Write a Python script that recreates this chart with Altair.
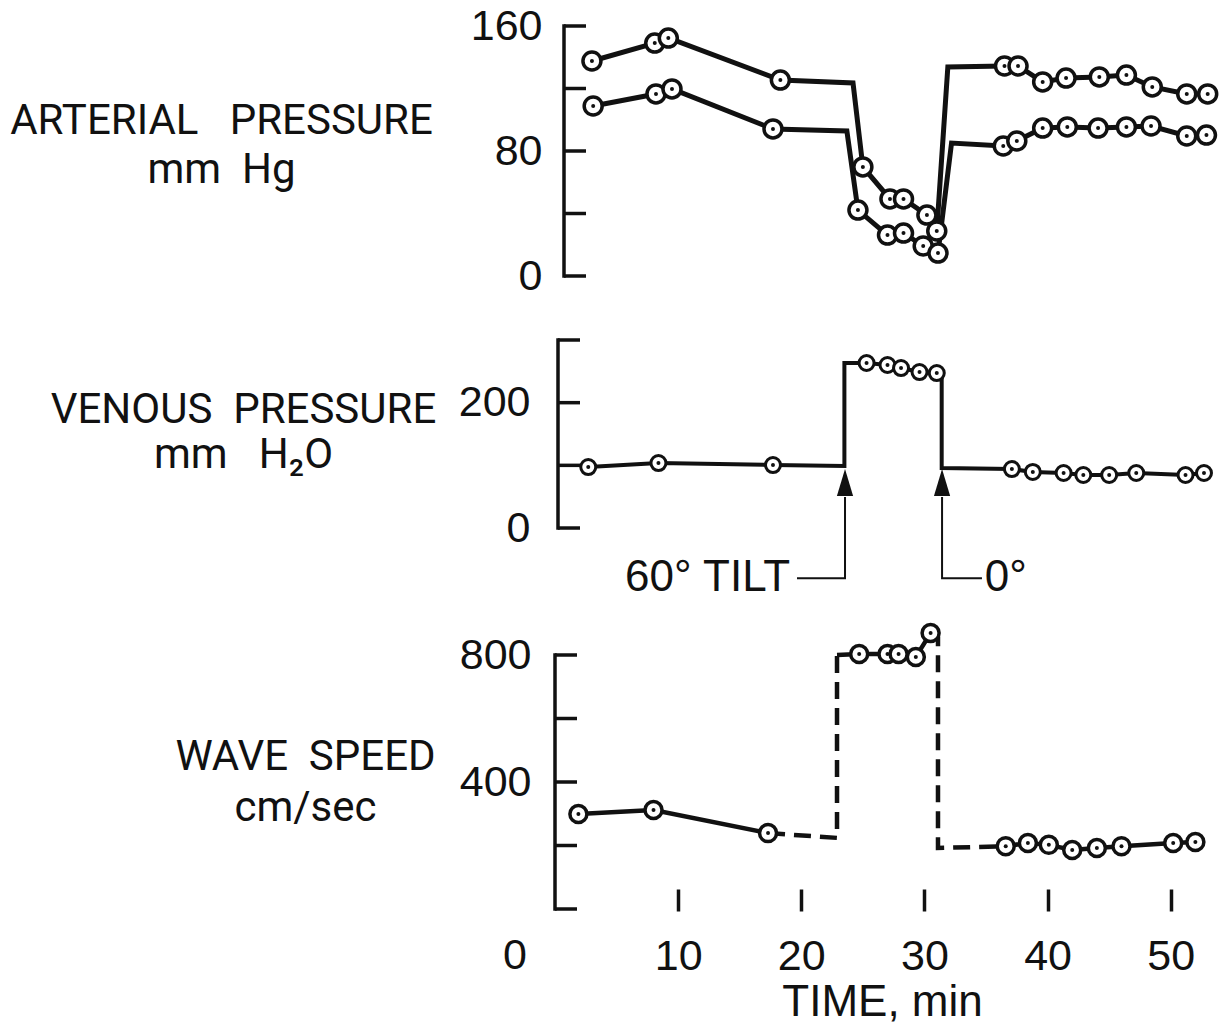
import altair as alt
import pandas as pd

INK = "#111111"
FONT = "Liberation Sans"
TITLE_FONT = "Roboto"

# ---------------- arterial pressure, mm Hg ----------------
# mark = 1 for a reading (ringed dot), 0 for a bend in the trace
sys_t = [3.0, 8.1, 9.2, 18.3, 24.2, 25.0, 27.2, 28.3, 30.2, 31.0, 31.9,
         36.5, 37.6, 39.6, 41.5, 44.2, 46.4, 48.5, 51.3, 53.0]
sys_v = [137.6, 149.1, 152.3, 125.4, 123.5, 69.8, 49.3, 49.3, 39.0, 28.8, 133.8,
         134.4, 134.4, 124.2, 126.7, 127.4, 128.6, 121.0, 116.5, 116.5]
sys_m = [1, 1, 1, 1, 0, 1, 1, 1, 1, 1, 0, 1, 1, 1, 1, 1, 1, 1, 1, 1]

dia_t = [3.1, 8.2, 9.5, 17.7, 23.7, 24.6, 27.0, 28.3, 29.9, 31.1, 32.2,
         36.4, 37.5, 39.6, 41.6, 44.1, 46.4, 48.4, 51.3, 52.9]
dia_v = [108.8, 116.5, 119.7, 94.1, 92.8, 42.2, 26.2, 27.5, 19.2, 14.7, 85.1,
         83.2, 86.4, 94.7, 95.4, 94.7, 95.4, 96.0, 89.6, 90.2]
dia_m = [1, 1, 1, 1, 0, 1, 1, 1, 1, 1, 0, 1, 1, 1, 1, 1, 1, 1, 1, 1]

ap_ticks = [0, 40, 80, 120, 160]
ap_labels = [0, 80, 160]

# ---------------- venous pressure, mm H2O ----------------
ven_t = [2.7, 8.4, 17.7, 23.5, 23.5, 25.3, 27.0, 28.1, 29.6, 31.0, 31.4, 31.4,
         37.1, 38.8, 41.3, 42.9, 45.0, 47.2, 51.2, 52.7]
ven_v = [97.3, 103.7, 100.5, 98.9, 263.3, 263.3, 260.1, 255.3, 248.9, 247.3, 247.3, 95.7,
         94.1, 89.4, 87.8, 84.6, 84.6, 87.8, 84.6, 87.8]
ven_m = [1, 1, 1, 0, 0, 1, 1, 1, 1, 1, 0, 0, 1, 1, 1, 1, 1, 1, 1, 1]

vp_ticks = [0, 100, 200, 300]
vp_labels = [0, 200]

# posture changes marked with arrows
event_t = [23.55, 31.43]
event_label = ["60\u00b0 TILT", "0\u00b0"]
event_leg_end = [19.65, 34.67]     # end of the horizontal leader
event_text_t = [19.1, 34.9]
arrow_tip = 94
arrow_base = 49.5
leader_level = -80

# ---------------- pulse wave speed, cm/sec ----------------
ws_t = [1.9, 8.0, 17.3,
        22.9, 24.7, 27.0, 27.9, 29.3, 30.5,
        36.6, 38.4, 40.1, 42.0, 44.0, 46.0, 50.2, 52.0]
ws_v = [299, 312, 239,
        800, 803, 803, 803, 794, 869,
        198, 208, 202, 186, 192, 198, 208, 211]
ws_m = [1, 1, 1, 0, 1, 1, 1, 1, 1, 1, 1, 1, 1, 1, 1, 1, 1]
ws_seg = [0, 0, 0, 1, 1, 1, 1, 1, 1, 2, 2, 2, 2, 2, 2, 2, 2]

# unmeasured transitions, drawn dashed
ws_dash_t = [17.3, 22.9, 22.9, 30.5, 31.1, 31.1, 36.6]
ws_dash_v = [239, 224, 800, 869, 853, 192, 198]
ws_dash_seg = [0, 0, 0, 1, 1, 1, 1]

ws_ticks = [0, 200, 400, 600, 800]
ws_labels = [400, 800]

time_ticks = [10, 20, 30, 40, 50]

# ---------------- tables ----------------
ap_df = pd.DataFrame({
    "t": sys_t + dia_t,
    "v": sys_v + dia_v,
    "mark": sys_m + dia_m,
    "series": ["systolic"] * len(sys_t) + ["diastolic"] * len(dia_t),
    "ord": list(range(len(sys_t))) + list(range(len(dia_t))),
})
ven_df = pd.DataFrame({"t": ven_t, "v": ven_v, "mark": ven_m, "ord": range(len(ven_t))})
ws_df = pd.DataFrame({"t": ws_t, "v": ws_v, "mark": ws_m, "seg": ws_seg, "ord": range(len(ws_t))})
ws_dash_df = pd.DataFrame({"t": ws_dash_t, "v": ws_dash_v, "seg": ws_dash_seg,
                           "ord": range(len(ws_dash_t))})

leader_rows = []
for i, (t0, t1) in enumerate(zip(event_t, event_leg_end)):
    leader_rows += [
        {"ev": i, "ord": 0, "t": t1, "v": leader_level},
        {"ev": i, "ord": 1, "t": t0, "v": leader_level},
        {"ev": i, "ord": 2, "t": t0, "v": arrow_base},
    ]
leader_df = pd.DataFrame(leader_rows)
arrow_df = pd.DataFrame({"t": event_t, "v": [arrow_tip] * len(event_t)})
event_text_df = pd.DataFrame({"t": event_text_t, "v": [leader_level] * len(event_t),
                              "label": event_label, "side": ["right", "left"]})

# ---------------- shared pieces ----------------
W = 665
x_scale = alt.Scale(domain=[0, 54], nice=False, zero=False)

time_axis = alt.Axis(
    values=time_ticks, domain=False, ticks=True, tickSize=22, tickWidth=3.5, tickColor=INK,
    offset=-20, labelPadding=24, labelFont=FONT, labelFontSize=43, labelColor=INK,
    labelFlush=False, labelOverlap=False, grid=False, format="d",
    title="TIME, min", titleX=327, titleY=126, titleAlign="center", titleBaseline="alphabetic",
    titleFont=FONT, titleFontSize=44, titleFontWeight="normal", titleColor=INK,
)


def y_axis(values, pad, title, tx, ty, line_h):
    return alt.Axis(
        values=values, domain=False, ticks=False, tickSize=0, grid=False,
        labelPadding=pad, labelFont=FONT, labelFontSize=43, labelColor=INK,
        labelOverlap=False, labelFlush=False,
        title=title, titleX=tx, titleY=ty, titleAngle=0, titleAlign="center",
        titleBaseline="alphabetic", titleLineHeight=line_h, titleFont=TITLE_FONT,
        titleFontSize=42, titleFontWeight="normal", titleColor=INK,
    )


def frame(lo, hi, ticks, y_scale, axis_x, tick_len=22, width=3.5):
    """Axis spine and inward tick marks of one panel."""
    spine = alt.Chart(pd.DataFrame({"v": [lo], "v2": [hi]})).mark_rule(
        color=INK, strokeWidth=width, strokeCap="square"
    ).encode(y=alt.Y("v:Q", scale=y_scale), y2="v2:Q", x=alt.value(axis_x))
    tks = alt.Chart(pd.DataFrame({"v": ticks})).mark_rule(
        color=INK, strokeWidth=width
    ).encode(y=alt.Y("v:Q", scale=y_scale), x=alt.value(axis_x), x2=alt.value(axis_x + tick_len))
    return [spine, tks]


def readings(df, xa, y_scale, ring_d, ring_w):
    pts = alt.Chart(df).transform_filter("datum.mark == 1").encode(
        x=alt.X("t:Q", scale=x_scale, axis=xa), y=alt.Y("v:Q", scale=y_scale))
    rings = pts.mark_point(shape="circle", filled=True, fill="white", stroke=INK,
                           strokeWidth=ring_w, size=ring_d ** 2, opacity=1)
    dots = pts.mark_point(shape="circle", filled=True, fill=INK, strokeWidth=0,
                          size=16, opacity=1)
    return [rings, dots]


# ---------------- arterial panel ----------------
xA = alt.X("t:Q", scale=x_scale, axis=None)
yA = alt.Scale(domain=[0, 160], nice=False, zero=False)
ap_lines = alt.Chart(ap_df).mark_line(color=INK, strokeWidth=5, strokeJoin="miter").encode(
    x=xA,
    y=alt.Y("v:Q", scale=yA,
            axis=y_axis(ap_labels, 13, ["ARTERIAL\u00a0\u00a0\u00a0PRESSURE", "mm\u00a0\u00a0Hg"],
                        -334, 107, 49)),
    detail="series:N", order="ord:Q",
)
anchor = alt.Chart(pd.DataFrame({"k": [0]})).mark_point(
    opacity=0, size=1, shape="square", filled=True
).encode(x=alt.value(-554.5), y=alt.value(-25.5))

panel_a = alt.layer(
    *frame(0, 160, ap_ticks, yA, 9), ap_lines, *readings(ap_df, None, yA, 18, 3.5), anchor
).properties(width=W, height=250)

# ---------------- venous panel ----------------
xB = alt.X("t:Q", scale=x_scale, axis=None)
yB = alt.Scale(domain=[-100.5, 300], nice=False, zero=False)
ven_line = alt.Chart(ven_df).mark_line(color=INK, strokeWidth=4, strokeJoin="miter").encode(
    x=xB,
    y=alt.Y("v:Q", scale=yB,
            axis=y_axis(vp_labels, 25, ["VENOUS\u00a0\u00a0PRESSURE", "mm\u00a0\u00a0\u00a0H\u2082O"],
                        -312, 82, 45)),
    order="ord:Q",
)
leaders = alt.Chart(leader_df).mark_line(color=INK, strokeWidth=2, strokeJoin="miter").encode(
    x=xB, y=alt.Y("v:Q", scale=yB), detail="ev:N", order="ord:Q")
arrows = alt.Chart(arrow_df).mark_point(
    shape="M0,0L0.6,2L-0.6,2Z", size=729, filled=True, fill=INK, strokeWidth=0, opacity=1
).encode(x=xB, y=alt.Y("v:Q", scale=yB))


def event_labels(side):
    return alt.Chart(event_text_df).transform_filter(
        alt.datum.side == side
    ).mark_text(font=FONT, fontSize=44, color=INK, baseline="middle", align=side).encode(
        x=xB, y=alt.Y("v:Q", scale=yB), text="label:N")


panel_b = alt.layer(
    *frame(0, 300, vp_ticks, yB, 3), ven_line, leaders, arrows,
    event_labels("right"), event_labels("left"),
    *readings(ven_df, None, yB, 15, 3)
).properties(width=W, height=251)

# ---------------- wave speed panel ----------------
xC = alt.X("t:Q", scale=x_scale, axis=time_axis)
yC = alt.Scale(domain=[0, 800], nice=False, zero=False)
ws_lines = alt.Chart(ws_df).mark_line(color=INK, strokeWidth=4.5, strokeJoin="miter").encode(
    x=xC,
    y=alt.Y("v:Q", scale=yC,
            axis=y_axis(ws_labels, 24, ["WAVE\u00a0\u00a0SPEED", "cm/sec"], -250, 114, 51)),
    detail="seg:N", order="ord:Q",
)
ws_dashes = alt.Chart(ws_dash_df).mark_line(
    color=INK, strokeWidth=4.5, strokeDash=[17, 9], strokeJoin="miter"
).encode(x=xC, y=alt.Y("v:Q", scale=yC), detail="seg:N", order="ord:Q")
origin_label = alt.Chart(pd.DataFrame({"t": [0]})).mark_text(
    text="0", font=FONT, fontSize=43, color=INK, baseline="top", align="center", dx=-40
).encode(x=xC, y=alt.value(280))

panel_c = alt.layer(
    *frame(0, 800, ws_ticks, yC, 0), ws_dashes, ws_lines, *readings(ws_df, time_axis, yC, 17, 3.5),
    origin_label
).properties(width=W, height=254)

chart = alt.vconcat(panel_a, panel_b, panel_c, spacing=64, bounds="flush").properties(
    padding=0, background="white"
).configure_view(stroke=None)

chart.save("out.html", embed_options={"renderer": "svg", "actions": False})
